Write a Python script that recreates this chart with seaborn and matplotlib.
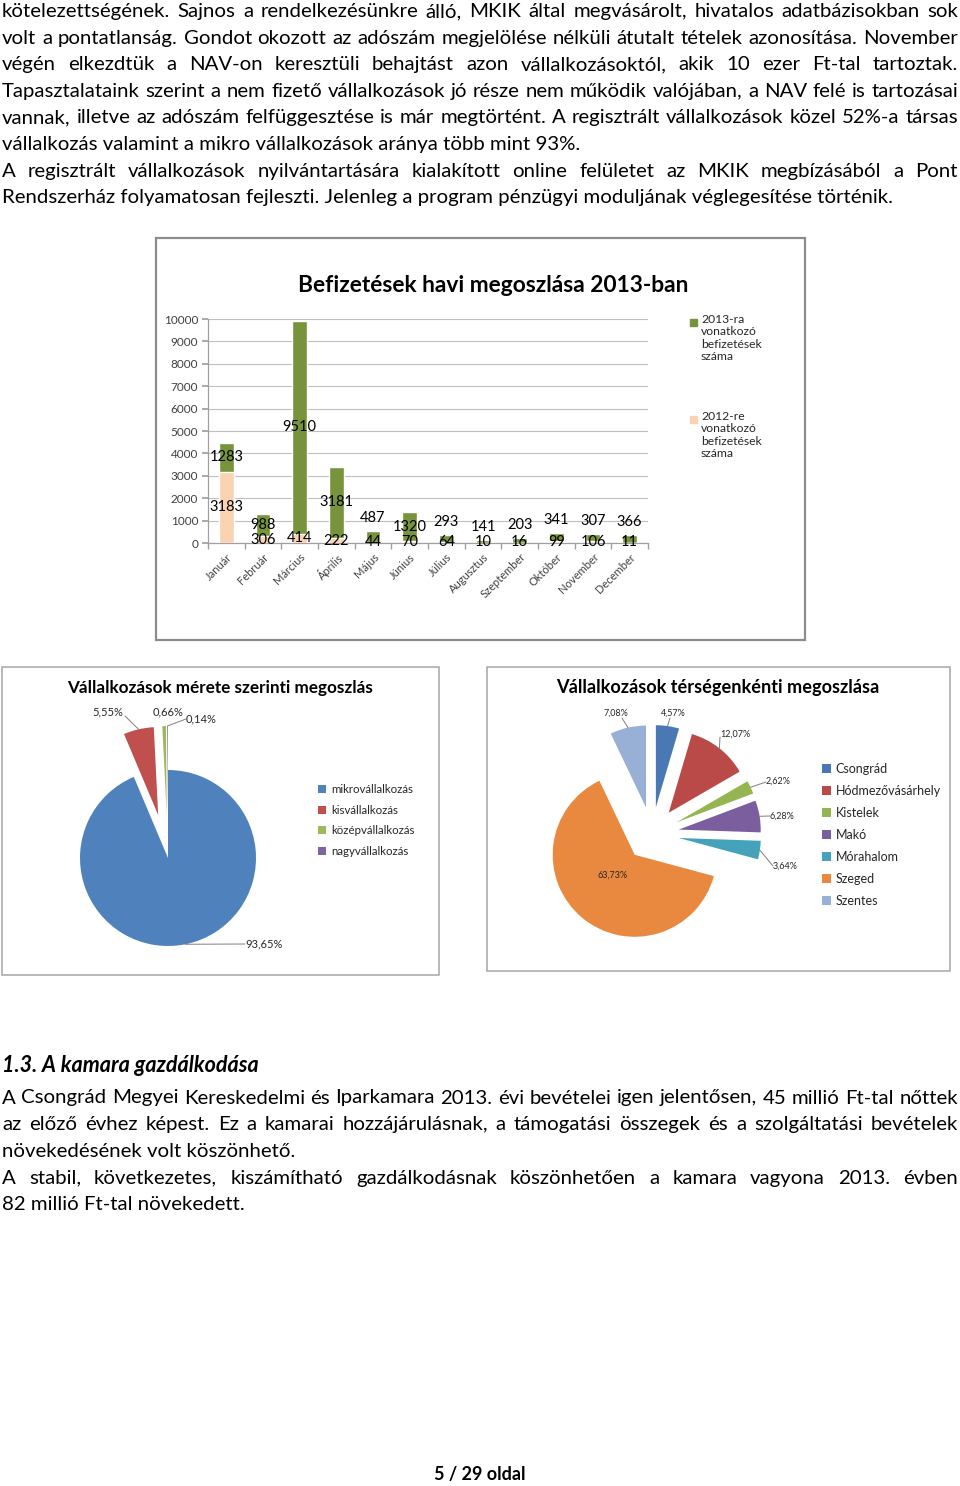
import numpy as np
import pandas as pd
import seaborn as sns
import matplotlib.pyplot as plt
from matplotlib.patches import Rectangle

# --- adatok ---
honapok = ['Január', 'Február', 'Március', 'Április', 'Május', 'Június', 'Július',
           'Augusztus', 'Szeptember', 'Október', 'November', 'December']
befiz_2013 = [1283, 988, 9510, 3181, 487, 1320, 293, 141, 203, 341, 307, 366]
befiz_2012 = [3183, 306, 414, 222, 44, 70, 64, 10, 16, 99, 106, 11]
y_ticks = list(range(0, 10001, 1000))

meret_kat = ['mikrovállalkozás', 'kisvállalkozás', 'középvállalkozás', 'nagyvállalkozás']
meret_arany = [93.65, 5.55, 0.66, 0.14]

terseg_kat = ['Csongrád', 'Hódmezővásárhely', 'Kistelek', 'Makó', 'Mórahalom', 'Szeged', 'Szentes']
terseg_arany = [4.57, 12.07, 2.62, 6.28, 3.64, 63.73, 7.08]

szoveg_fent = [
    ('kötelezettségének. Sajnos a rendelkezésünkre álló, MKIK által megvásárolt, hivatalos adatbázisokban sok', True),
    ('volt a pontatlanság. Gondot okozott az adószám megjelölése nélküli átutalt tételek azonosítása. November', True),
    ('végén elkezdtük a NAV-on keresztüli behajtást azon vállalkozásoktól, akik 10 ezer Ft-tal tartoztak.', True),
    ('Tapasztalataink szerint a nem fizető vállalkozások jó része nem működik valójában, a NAV felé is tartozásai', True),
    ('vannak, illetve az adószám felfüggesztése is már megtörtént. A regisztrált vállalkozások közel 52%-a társas', True),
    ('vállalkozás valamint a mikro vállalkozások aránya több mint 93%.', False),
    ('A regisztrált vállalkozások nyilvántartására kialakított online felületet az MKIK megbízásából a Pont', True),
    ('Rendszerház folyamatosan fejleszti. Jelenleg a program pénzügyi moduljának véglegesítése történik.', False),
]
szoveg_lent = [
    ('A Csongrád Megyei Kereskedelmi és Iparkamara 2013. évi bevételei igen jelentősen, 45 millió Ft-tal nőttek', True),
    ('az előző évhez képest. Ez a kamarai hozzájárulásnak, a támogatási összegek és a szolgáltatási bevételek', True),
    ('növekedésének volt köszönhető.', False),
    ('A stabil, következetes, kiszámítható gazdálkodásnak köszönhetően a kamara vagyona 2013. évben', True),
    ('82 millió Ft-tal növekedett.', False),
]

# színek
zold = '#77933C'
barack = '#FAD3B2'
meret_szinek = ['#4F81BD', '#C0504D', '#9BBB59', '#8064A2']
terseg_szinek = ['#4A78B5', '#B94A47', '#94B550', '#7A5E9E', '#45A2BB', '#E8893F', '#98AFD6']
szurke = '#A6A6A6'
felirat = '#262626'

sns.set_theme(style='white')
plt.rcParams['font.family'] = ['Lato', 'DejaVu Sans']

W, H = 960, 1486
fig = plt.figure(figsize=(W / 100, H / 100), dpi=100)
fig.patch.set_facecolor('white')

# oldal tengely pixel koordinátákban
page = fig.add_axes([0, 0, 1, 1])
page.set_xlim(0, W)
page.set_ylim(0, H)
page.axis('off')
renderer = fig.canvas.get_renderer()


def Y(y):
    return H - y


def szelesseg(t):
    return t.get_window_extent(renderer=renderer).width


def illeszt(s, w, **kw):
    t = page.text(0, 0, s, fontsize=10, **kw)
    ww = szelesseg(t)
    t.remove()
    return 10 * w / ww


def sor(y, s, size, justify, x0=2, x1=958, **kw):
    if not justify:
        page.text(x0, Y(y), s, fontsize=size, va='baseline', ha='left', color='black', **kw)
        return
    szavak = s.split()
    ts = [page.text(0, Y(y), w, fontsize=size, va='baseline', ha='left', color='black', **kw)
          for w in szavak]
    ws = [szelesseg(t) for t in ts]
    hezag = (x1 - x0 - sum(ws)) / (len(szavak) - 1)
    x = x0
    for t, w in zip(ts, ws):
        t.set_x(x)
        x += w + hezag


# --- folyó szöveg ---
body = illeszt('vállalkozás valamint a mikro vállalkozások aránya több mint 93%.', 576)
for i, (s, j) in enumerate(szoveg_fent):
    sor(17 + i * 26.6, s, body, j)

fs = illeszt('1.3. A kamara gazdálkodása', 256, fontweight='bold', fontstyle='italic')
page.text(2, Y(1072), '1.3. A kamara gazdálkodása', fontsize=fs, fontweight='bold',
          fontstyle='italic', va='baseline', color='black')
for i, (s, j) in enumerate(szoveg_lent):
    sor(1103.5 + i * 26.7, s, body, j)

fs = illeszt('5 / 29 oldal', 92, fontweight='bold')
page.text(480, Y(1480), '5 / 29 oldal', fontsize=fs, fontweight='bold', ha='center',
          va='baseline', color='black')

# keretek
page.add_patch(Rectangle((156, Y(640)), 649, 402, fill=False, ec='#8C8C8C', lw=1.6))
page.add_patch(Rectangle((2, Y(975)), 437, 308, fill=False, ec=szurke, lw=1.1))
page.add_patch(Rectangle((487, Y(971)), 463, 304, fill=False, ec=szurke, lw=1.1))

# --- oszlopdiagram ---
fs = illeszt('Befizetések havi megoszlása 2013-ban', 391, fontweight='bold')
page.text(493.5, Y(292), 'Befizetések havi megoszlása 2013-ban', fontsize=fs,
          fontweight='bold', ha='center', va='baseline', color='black')

df = pd.DataFrame({'honap': honapok, 'y2012': befiz_2012, 'y2013': befiz_2013})
df['ossz'] = df['y2012'] + df['y2013']

axb = fig.add_axes([208 / W, 1 - 543 / H, 440 / W, 224 / H])
sns.barplot(data=df, x='honap', y='ossz', color=zold, saturation=1, width=0.4,
            errorbar=None, ax=axb, zorder=3)
sns.barplot(data=df, x='honap', y='y2012', color=barack, saturation=1, width=0.4,
            errorbar=None, ax=axb, zorder=3)
axb.set_facecolor('none')
axb.set_ylim(0, 10000)
axb.set_xlim(-0.5, len(honapok) - 0.5)
axb.set_yticks(y_ticks)
axb.set_yticklabels([str(v) for v in y_ticks], fontsize=8.5, color='#404040')
axb.yaxis.grid(True, color='#BFBFBF', lw=0.8)
axb.set_axisbelow(True)
axb.set_xlabel('')
axb.set_ylabel('')
for s in ['top', 'right']:
    axb.spines[s].set_visible(False)
for s in ['left', 'bottom']:
    axb.spines[s].set_color('#A0A0A0')
    axb.spines[s].set_linewidth(0.9)
axb.set_xticks(range(len(honapok)))
axb.set_xticklabels(honapok, rotation=45, ha='right', rotation_mode='anchor',
                    fontsize=8, color='#404040')
axb.set_xticks(np.arange(-0.5, len(honapok), 1), minor=True)
axb.tick_params(axis='x', which='major', length=0, pad=6)
axb.tick_params(axis='x', which='minor', length=4, color='#A0A0A0', bottom=True)
axb.tick_params(axis='y', length=4, color='#A0A0A0', left=True, pad=3)

for i, (a, b) in enumerate(zip(befiz_2012, befiz_2013)):
    axb.text(i, max(a / 2, 45), str(a), ha='center', va='center', fontsize=10.5,
             color='black', zorder=5)
    yb = a + b / 2 if b > 800 else a + b + 580
    axb.text(i, yb, str(b), ha='center', va='center', fontsize=10.5, color='black', zorder=5)

# jelmagyarázat
for yy, c, s in [(318, zold, '2013-ra\nvonatkozó\nbefizetések\nszáma'),
                 (415, barack, '2012-re\nvonatkozó\nbefizetések\nszáma')]:
    page.add_patch(Rectangle((690, Y(yy + 8)), 7, 7, color=c))
    page.text(701, Y(yy - 4), s, fontsize=8.7, va='top', ha='left', color=felirat,
              linespacing=1.15)


# --- kördiagramok ---
def kor_tengely(cx, cy, r, fel=150):
    ax = fig.add_axes([(cx - fel) / W, (H - cy - fel) / H, 2 * fel / W, 2 * fel / H])
    return ax


def szel(w, cx, cy, r, k=1.0):
    th = np.deg2rad((w.theta1 + w.theta2) / 2)
    wx, wy = w.center
    return cx + r * (wx + k * np.cos(th)), cy - r * (wy + k * np.sin(th))


# 1. kör
c1x, c1y, r1 = 168, 858, 88
ax1 = kor_tengely(c1x, c1y, r1)
w1, _ = ax1.pie(meret_arany, colors=meret_szinek, startangle=90, counterclock=False,
                explode=[0, 0.5, 0.5, 0.5], radius=1, frame=True,
                wedgeprops=dict(linewidth=0))
ax1.set_aspect('auto')
ax1.set_xlim(-150 / r1, 150 / r1)
ax1.set_ylim(-150 / r1, 150 / r1)
ax1.axis('off')

fs = illeszt('Vállalkozások mérete szerinti megoszlás', 306, fontweight='bold')
page.text(220, Y(693), 'Vállalkozások mérete szerinti megoszlás', fontsize=fs,
          fontweight='bold', ha='center', va='baseline', color='black')

ax1.legend(w1, meret_kat, loc='upper left', bbox_to_anchor=(309 / W, 1 - 775 / H),
           bbox_transform=fig.transFigure, frameon=False, fontsize=8.3, handlelength=0.7,
           handleheight=0.7, handletextpad=0.4, labelspacing=0.82, borderpad=0.3,
           labelcolor=felirat)

# 2. kör
c2x, c2y, r2 = 652, 834, 82
ax2 = kor_tengely(c2x, c2y, r2)
w2, _ = ax2.pie(terseg_arany, colors=terseg_szinek, startangle=90, counterclock=False,
                explode=[0.33] * len(terseg_arany), radius=1, frame=True,
                wedgeprops=dict(linewidth=0))
ax2.set_aspect('auto')
ax2.set_xlim(-150 / r2, 150 / r2)
ax2.set_ylim(-150 / r2, 150 / r2)
ax2.axis('off')

fs = illeszt('Vállalkozások térségenkénti megoszlása', 322, fontweight='bold')
page.text(718, Y(693), 'Vállalkozások térségenkénti megoszlása', fontsize=fs,
          fontweight='bold', ha='center', va='baseline', color='black')

ax2.legend(w2, terseg_kat, loc='upper left', bbox_to_anchor=(812 / W, 1 - 753 / H),
           bbox_transform=fig.transFigure, frameon=False, fontsize=9, handlelength=0.7,
           handleheight=0.7, handletextpad=0.4, labelspacing=0.8, borderpad=0.3,
           labelcolor=felirat)

# felső réteg a százalékos feliratoknak (a körcikkek fölött)
top = fig.add_axes([0, 0, 1, 1])
top.set_xlim(0, W)
top.set_ylim(0, H)
top.axis('off')
top.patch.set_alpha(0)


def vonal(p, q):
    top.plot([p[0], q[0]], [Y(p[1]), Y(q[1])], color='#7F7F7F', lw=0.7)


pie1_cimkek = [((245, 944), 'left', (245, 944)),
               ((108, 712), 'center', (125, 716)),
               ((168, 712), 'center', None),
               ((186, 719), 'left', (186, 719))]
for w, v, (pos, ha, veg) in zip(w1, meret_arany, pie1_cimkek):
    top.text(pos[0], Y(pos[1]), f'{v:.2f}%'.replace('.', ','), fontsize=8, ha=ha,
             va='center', color=felirat)
    if veg is not None:
        vonal(szel(w, c1x, c1y, r1), veg)

pie2_cimkek = [((673, 713), 'center', (670, 718)),
               ((720, 734), 'left', (720, 737)),
               ((766, 781), 'left', (766, 782)),
               ((770, 816), 'left', (770, 816)),
               ((773, 866), 'left', (773, 866)),
               ((613, 875), 'center', None),
               ((616, 713), 'center', (622, 718))]
for w, v, (pos, ha, veg) in zip(w2, terseg_arany, pie2_cimkek):
    top.text(pos[0], Y(pos[1]), f'{v:.2f}%'.replace('.', ','), fontsize=6.5, ha=ha,
             va='center', color=felirat)
    if veg is not None:
        vonal(szel(w, c2x, c2y, r2), veg)

fig.savefig('out.png', dpi=100, facecolor='white')
